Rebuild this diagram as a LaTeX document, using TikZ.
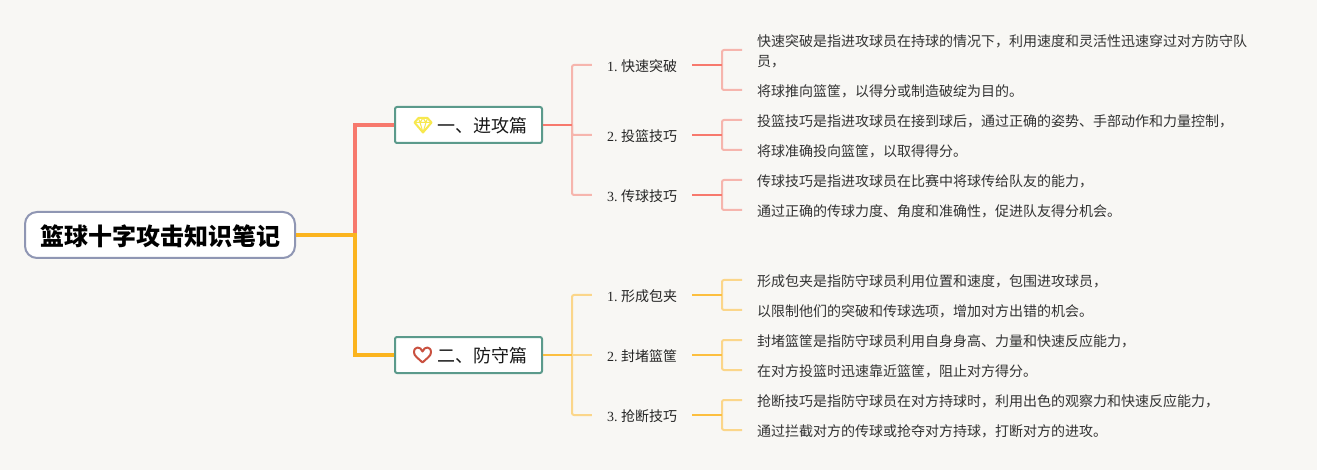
\documentclass[tikz,border=0pt]{standalone}
\usepackage{fontspec}
\setmainfont{Liberation Serif}
\newfontfamily\cjk{Noto Sans CJK SC}
\definecolor{pagebg}{HTML}{F8F7F4}
\definecolor{rootedge}{HTML}{8F96B3}
\definecolor{topicedge}{HTML}{5B9A8B}
\definecolor{redmain}{HTML}{F7796D}
\definecolor{redtwig}{HTML}{F6B5AD}
\definecolor{orangemain}{HTML}{FBB41E}
\definecolor{orangetwig}{HTML}{FBD68A}
\definecolor{gemcolor}{HTML}{F7E84E}
\definecolor{heartcolor}{HTML}{C9503F}
\tikzset{
  rootbox/.style={draw=rootedge,fill=white,line width=2pt,rounded corners=12pt,minimum width=270pt,minimum height=46pt,inner sep=0pt,text height=22pt,text depth=0.8pt,font=\fontsize{24}{28}\selectfont\cjk\bfseries},
  topicbox/.style={draw=topicedge,fill=white,line width=2pt,rounded corners=2pt,minimum width=147pt,minimum height=36pt,inner sep=0pt,text height=16pt,text depth=0.3pt,font=\fontsize{18}{22}\selectfont\cjk,text=black!90},
  subject/.style={minimum width=100pt,inner sep=0pt,text height=13pt,text depth=0.4pt,font=\fontsize{14}{20}\selectfont\frenchspacing,text=black!85},
  leaf/.style={anchor=west,inner xsep=15pt,inner ysep=0pt,align=left,text height=13pt,text depth=0.4pt,font=\fontsize{14}{20}\selectfont\cjk,text=black!80},
  trunk/.style={line width=4pt},
  branch/.style={line width=2pt},
  twig/.style={line width=2pt,rounded corners=2pt},
  gem/.pic={
    \draw[gemcolor,line width=2pt,line join=round] (-8.5,-2.5) -- (-4.5,-7) -- (4.5,-7) -- (8.5,-2.5) -- (0,7.5) -- cycle;
    \draw[gemcolor,line width=1pt,line join=round] (-8.5,-2.5) -- (8.5,-2.5) (-4.5,-7) -- (-3,-2.5) -- (0,7.5) -- (3,-2.5) -- (4.5,-7) (0,-7) -- (-3,-2.5) (0,-7) -- (3,-2.5);
  },
  heartmark/.pic={
    \draw[heartcolor,line width=2pt,line join=round] (0,7.5) .. controls (-4,3.5) and (-8.5,1) .. (-8.5,-2.5) .. controls (-8.5,-9) and (-2,-9) .. (0,-3.5) .. controls (2,-9) and (8.5,-9) .. (8.5,-2.5) .. controls (8.5,1) and (4,3.5) .. (0,7.5) -- cycle;
  }
}
\begin{document}
\begin{tikzpicture}[x=1pt,y=-1pt]
\path[use as bounding box,fill=pagebg] (0,0) rectangle (1317,470);

\node[rootbox] (root) at (160,235) {篮球十字攻击知识笔记};
\node[topicbox] (attack) at (468.5,125) {\hspace*{27pt}一、进攻篇};
\node[topicbox] (defend) at (468.5,355) {\hspace*{27pt}二、防守篇};
\pic at (423,125) {gem};
\pic at (422.5,355) {heartmark};

% junctions
\coordinate (rootj) at (355,235);
\coordinate (attackj) at (572,125);
\coordinate (defendj) at (572,355);
\coordinate (a1j) at (722,65);
\coordinate (a2j) at (722,135);
\coordinate (a3j) at (722,195);
\coordinate (d1j) at (722,295);
\coordinate (d2j) at (722,355);
\coordinate (d3j) at (722,415);

% attack side
\node[subject] (a1) at (642,65) {1. {\cjk 快速突破}};
\node[subject] (a2) at (642,135) {2. {\cjk 投篮技巧}};
\node[subject] (a3) at (642,195) {3. {\cjk 传球技巧}};
\node[leaf,text height=33pt] (a1a) at (742,50) {快速突破是指进攻球员在持球的情况下，利用速度和灵活性迅速穿过对方防守队\\员，};
\node[leaf] (a1b) at (742,90) {将球推向篮筐，以得分或制造破绽为目的。};
\node[leaf] (a2a) at (742,120) {投篮技巧是指进攻球员在接到球后，通过正确的姿势、手部动作和力量控制，};
\node[leaf] (a2b) at (742,150) {将球准确投向篮筐，以取得得分。};
\node[leaf] (a3a) at (742,180) {传球技巧是指进攻球员在比赛中将球传给队友的能力，};
\node[leaf] (a3b) at (742,210) {通过正确的传球力度、角度和准确性，促进队友得分机会。};

% defend side
\node[subject] (d1) at (642,295) {1. {\cjk 形成包夹}};
\node[subject] (d2) at (642,355) {2. {\cjk 封堵篮筐}};
\node[subject] (d3) at (642,415) {3. {\cjk 抢断技巧}};
\node[leaf] (d1a) at (742,280) {形成包夹是指防守球员利用位置和速度，包围进攻球员，};
\node[leaf] (d1b) at (742,310) {以限制他们的突破和传球选项，增加对方出错的机会。};
\node[leaf] (d2a) at (742,340) {封堵篮筐是指防守球员利用自身身高、力量和快速反应能力，};
\node[leaf] (d2b) at (742,370) {在对方投篮时迅速靠近篮筐，阻止对方得分。};
\node[leaf] (d3a) at (742,400) {抢断技巧是指防守球员在对方持球时，利用出色的观察力和快速反应能力，};
\node[leaf] (d3b) at (742,430) {通过拦截对方的传球或抢夺对方持球，打断对方的进攻。};

% connectors
\draw[trunk,redmain] (attack.west) -| (rootj);
\draw[trunk,orangemain] (root.east) -- (rootj) |- (defend.west);

\draw[twig,redtwig] (a1.west) -| (attackj);
\draw[twig,redtwig] (a2.west) -| (attackj);
\draw[twig,redtwig] (a3.west) -| (attackj);
\draw[branch,redmain] (attack.east) -- (attackj);
\draw[twig,redtwig] (a1a.west) -| (a1j);
\draw[twig,redtwig] (a1b.west) -| (a1j);
\draw[twig,redtwig] (a2a.west) -| (a2j);
\draw[twig,redtwig] (a2b.west) -| (a2j);
\draw[twig,redtwig] (a3a.west) -| (a3j);
\draw[twig,redtwig] (a3b.west) -| (a3j);
\draw[branch,redmain] (a1.east) -- (a1j);
\draw[branch,redmain] (a2.east) -- (a2j);
\draw[branch,redmain] (a3.east) -- (a3j);

\draw[twig,orangetwig] (d1.west) -| (defendj);
\draw[twig,orangetwig] (d3.west) -| (defendj);
\draw[twig,orangetwig] (d2.west) -- (defendj);
\draw[branch,orangemain!85] (defend.east) -- (defendj);
\draw[twig,orangetwig] (d1a.west) -| (d1j);
\draw[twig,orangetwig] (d1b.west) -| (d1j);
\draw[twig,orangetwig] (d2a.west) -| (d2j);
\draw[twig,orangetwig] (d2b.west) -| (d2j);
\draw[twig,orangetwig] (d3a.west) -| (d3j);
\draw[twig,orangetwig] (d3b.west) -| (d3j);
\draw[branch,orangemain!85] (d1.east) -- (d1j);
\draw[branch,orangemain!85] (d2.east) -- (d2j);
\draw[branch,orangemain!85] (d3.east) -- (d3j);
\end{tikzpicture}
\end{document}
